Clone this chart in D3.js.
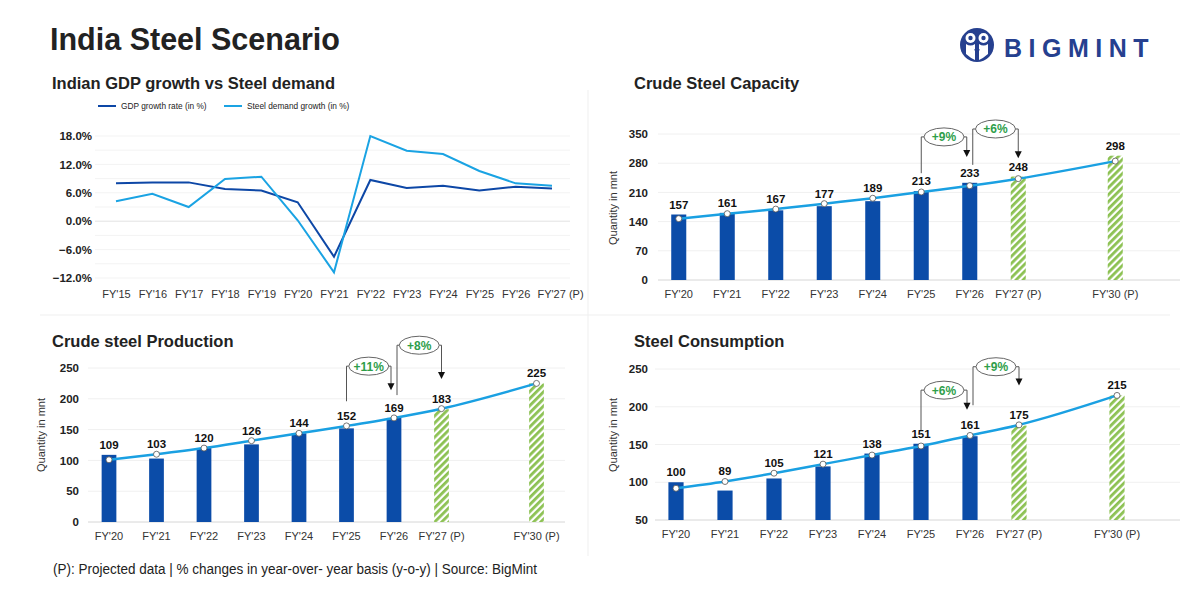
<!DOCTYPE html>
<html>
<head>
<meta charset="utf-8">
<script src="https://cdn.jsdelivr.net/npm/d3@7/dist/d3.min.js"></script>
<style>
  html, body { margin: 0; padding: 0; background: #fff; }
  svg { display: block; font-family: "Liberation Sans", Arial, sans-serif; }
</style>
</head>
<body>
<svg id="chart" width="1200" height="600"></svg>
<script>
// ---------------- DATA ----------------
const gdpYears = ["FY'15","FY'16","FY'17","FY'18","FY'19","FY'20","FY'21","FY'22","FY'23","FY'24","FY'25","FY'26","FY'27 (P)"];
const gdpGrowth = [8.0, 8.2, 8.2, 6.8, 6.5, 4.0, -7.5, 8.7, 7.0, 7.5, 6.5, 7.3, 6.9];
const steelDemandGrowth = [4.2, 5.8, 3.0, 8.9, 9.4, 0.2, -10.8, 18.0, 14.9, 14.2, 10.6, 8.0, 7.5];
const pctTicks = [-12, -6, 0, 6, 12, 18];
const pctGrid = [-12, -9, -6, -3, 0, 3, 6, 9, 12, 15, 18];

const barYears = ["FY'20","FY'21","FY'22","FY'23","FY'24","FY'25","FY'26","FY'27 (P)","FY'30 (P)"];
const projected = [false, false, false, false, false, false, false, true, true];

const capacityValues = [157, 161, 167, 177, 189, 213, 233, 248, 298];
const capacityTrend  = [147, 159, 170, 183, 196, 211, 226, 243, 285];
const capacityTicks  = [0, 70, 140, 210, 280, 350];
const capacityNotes  = [
  { from: "FY'25", to: "FY'26", label: "+9%", start: 256, level: 343, tip: 295 },
  { from: "FY'26", to: "FY'27 (P)", label: "+6%", start: 276, level: 362, tip: 292 }
];

const productionValues = [109, 103, 120, 126, 144, 152, 169, 183, 225];
const productionTrend  = [101, 110, 120, 132, 144, 156, 169, 184, 225];
const productionTicks  = [0, 50, 100, 150, 200, 250];
const productionNotes  = [
  { from: "FY'25", to: "FY'26", label: "+11%", start: 196, level: 253, tip: 214 },
  { from: "FY'26", to: "FY'27 (P)", label: "+8%", start: 206, level: 287, tip: 232 }
];

const consumptionValues = [100, 89, 105, 121, 138, 151, 161, 175, 215];
const consumptionTrend  = [92, 101, 112, 124, 136, 148, 162, 176, 215];
const consumptionTicks  = [50, 100, 150, 200, 250];
const consumptionNotes  = [
  { from: "FY'25", to: "FY'26", label: "+6%", start: 169, level: 222, tip: 196 },
  { from: "FY'26", to: "FY'27 (P)", label: "+9%", start: 202, level: 253, tip: 228 }
];

// ---------------- STYLE ----------------
const C = {
  title: "#222222",
  barBlue: "#0B4CA8",
  gdp: "#0D47A6",
  steel: "#1AA3E3",
  trend: "#1AA0E2",
  green: "#8CC152",
  grid: "#EBEBEB",
  axis: "#D6D6D6",
  text: "#333333",
  noteGreen: "#2E9E4A",
  logo: "#26408F"
};

const svg = d3.select("#chart");
const defs = svg.append("defs");
const pat = defs.append("pattern")
  .attr("id", "hatch").attr("patternUnits", "userSpaceOnUse")
  .attr("width", 5).attr("height", 5)
  .attr("patternTransform", "rotate(45)");
pat.append("rect").attr("width", 5).attr("height", 5).attr("fill", "#fff");
pat.append("rect").attr("width", 2.8).attr("height", 5).attr("fill", C.green);

// ---------------- HEADER ----------------
svg.append("text").attr("x", 50).attr("y", 50)
  .attr("font-size", 30.5).attr("font-weight", 700).attr("fill", C.title)
  .text("India Steel Scenario");

// Logo
const logo = svg.append("g").attr("transform", "translate(977,45)");
logo.append("circle").attr("r", 17).attr("fill", C.logo);
logo.append("circle").attr("cx", -6.5).attr("cy", -7).attr("r", 5).attr("fill", "#fff");
logo.append("circle").attr("cx", 6.5).attr("cy", -7).attr("r", 5).attr("fill", "#fff");
logo.append("circle").attr("cx", -6.5).attr("cy", -7).attr("r", 2.2).attr("fill", C.logo);
logo.append("circle").attr("cx", 6.5).attr("cy", -7).attr("r", 2.2).attr("fill", C.logo);
logo.append("path").attr("d", "M-11,-1 Q-6.5,2 -2,-1 L-2,15 Q-6.5,13 -11,9 Z").attr("fill", "#fff");
logo.append("path").attr("d", "M11,-1 Q6.5,2 2,-1 L2,15 Q6.5,13 11,9 Z").attr("fill", "#fff");
logo.append("path").attr("d", "M-2,4 L0,10 L2,4").attr("fill", "none").attr("stroke", C.logo).attr("stroke-width", 1.5);
svg.append("text").attr("x", 1004).attr("y", 57)
  .attr("font-size", 25).attr("font-weight", 700).attr("fill", C.logo)
  .attr("letter-spacing", 6.5).text("BIGMINT");

// Separators
svg.append("line").attr("x1", 588).attr("x2", 588).attr("y1", 90).attr("y2", 556)
  .attr("stroke", "#EFEFEF");
svg.append("line").attr("x1", 40).attr("x2", 1170).attr("y1", 315).attr("y2", 315)
  .attr("stroke", "#EFEFEF");

// Footer
svg.append("text").attr("x", 53).attr("y", 574)
  .attr("font-size", 14).attr("fill", "#222")
  .attr("textLength", 484).attr("lengthAdjust", "spacingAndGlyphs")
  .text("(P): Projected data | % changes in year-over- year basis (y-o-y) | Source: BigMint");

// ---------------- CHART 1: GDP vs steel demand ----------------
(function () {
  const g = svg.append("g");
  g.append("text").attr("x", 52).attr("y", 89)
    .attr("font-size", 16.5).attr("font-weight", 700).attr("fill", C.title)
    .text("Indian GDP growth vs Steel demand");

  // legend
  const leg = [{ name: "GDP growth rate (in %)", color: C.gdp, x: 98 },
               { name: "Steel demand growth (in %)", color: C.steel, x: 224 }];
  leg.forEach(l => {
    g.append("line").attr("x1", l.x).attr("x2", l.x + 18).attr("y1", 106).attr("y2", 106)
      .attr("stroke", l.color).attr("stroke-width", 2);
    g.append("text").attr("x", l.x + 23).attr("y", 109).attr("font-size", 8.3)
      .attr("fill", "#222").text(l.name);
  });

  const x = d3.scalePoint().domain(gdpYears).range([116, 552]);
  const y = d3.scaleLinear().domain([-12, 18]).range([278, 136]);

  g.selectAll(".grid").data(pctGrid).enter().append("line")
    .attr("x1", 95).attr("x2", 570)
    .attr("y1", d => y(d)).attr("y2", d => y(d))
    .attr("stroke", d => d === 0 ? "#E2E2E2" : "#F3F3F3").attr("stroke-width", 1);

  const ya = g.append("g").attr("transform", "translate(92,0)")
    .call(d3.axisLeft(y).tickValues(pctTicks).tickSize(0).tickPadding(0).tickFormat(d => d3.format(".1f")(d) + "%"));
  ya.select(".domain").remove();
  ya.selectAll("text").attr("font-size", 11.5).attr("font-weight", 700).attr("fill", "#222")
    .attr("font-family", "Liberation Sans, Arial, sans-serif");

  const xa = g.append("g").attr("transform", "translate(0,290)")
    .call(d3.axisBottom(x).tickSize(0).tickPadding(0));
  xa.select(".domain").remove();
  xa.selectAll("text").attr("font-size", 11).attr("fill", C.text).attr("dy", "0.71em")
    .attr("font-family", "Liberation Sans, Arial, sans-serif")
    .attr("dx", (d, i) => i === gdpYears.length - 1 ? 8 : 0);

  const line = d3.line().x((d, i) => x(gdpYears[i])).y(d => y(d));
  g.append("path").datum(gdpGrowth).attr("d", line).attr("fill", "none")
    .attr("stroke", C.gdp).attr("stroke-width", 2);
  g.append("path").datum(steelDemandGrowth).attr("d", line).attr("fill", "none")
    .attr("stroke", C.steel).attr("stroke-width", 2);
})();

// ---------------- BAR + TREND CHART ----------------
function barChart(opts) {
  const g = svg.append("g");
  g.append("text").attr("x", opts.titleX).attr("y", opts.titleY)
    .attr("font-size", 16.5).attr("font-weight", 700).attr("fill", C.title)
    .text(opts.title);

  const slots = barYears.slice(0, 8).concat(["_gap"], barYears.slice(8));
  const x = d3.scaleBand().domain(slots).range(opts.xRange).paddingInner(0.69).paddingOuter(0.345);
  const cx = k => x(k) + x.bandwidth() / 2;
  const y = d3.scaleLinear().domain(opts.yDomain).range(opts.yRange);

  g.selectAll(".grid").data(opts.ticks).enter().append("line")
    .attr("x1", opts.gridX[0]).attr("x2", opts.gridX[1])
    .attr("y1", d => y(d)).attr("y2", d => y(d))
    .attr("stroke", (d, i) => i === 0 ? C.axis : "#F0F0F0").attr("stroke-width", 1);

  const ya = g.append("g").attr("transform", `translate(${opts.tickX},0)`)
    .call(d3.axisLeft(y).tickValues(opts.ticks).tickSize(0).tickPadding(0));
  ya.select(".domain").remove();
  ya.selectAll("text").attr("font-size", 11.5).attr("font-weight", 700).attr("fill", "#222")
    .attr("font-family", "Liberation Sans, Arial, sans-serif");

  g.append("text")
    .attr("transform", `translate(${opts.yTitleX},${opts.yTitleY}) rotate(-90)`)
    .attr("text-anchor", "middle").attr("font-size", 11).attr("fill", C.text)
    .text("Quantity in mnt");

  const xa = g.append("g").attr("transform", `translate(0,${opts.yRange[0] + 10})`)
    .call(d3.axisBottom(x).tickValues(barYears).tickSize(0).tickPadding(0));
  xa.select(".domain").remove();
  xa.selectAll("text").attr("font-size", 11).attr("fill", C.text).attr("dy", "0.71em")
    .attr("font-family", "Liberation Sans, Arial, sans-serif");

  const data = barYears.map((k, i) => ({ k, v: opts.values[i], t: opts.trend[i], p: projected[i] }));

  g.selectAll(".bar").data(data).enter().append("rect")
    .attr("x", d => x(d.k)).attr("width", x.bandwidth())
    .attr("y", d => y(d.v)).attr("height", d => y(opts.yDomain[0]) - y(d.v))
    .attr("fill", d => d.p ? "url(#hatch)" : C.barBlue);

  const tline = d3.line().x(d => cx(d.k)).y(d => y(d.t)).curve(d3.curveMonotoneX);
  g.append("path").datum(data).attr("d", tline).attr("fill", "none")
    .attr("stroke", C.trend).attr("stroke-width", 2.5);

  g.selectAll(".mk").data(data).enter().append("circle")
    .attr("cx", d => cx(d.k)).attr("cy", d => y(d.t)).attr("r", 3)
    .attr("fill", "#fff").attr("stroke", "#555").attr("stroke-width", 0.8);

  g.selectAll(".lbl").data(data).enter().append("text")
    .attr("x", d => cx(d.k)).attr("y", d => Math.min(y(d.v), y(d.t)) - 6)
    .attr("text-anchor", "middle").attr("font-size", 11.5).attr("font-weight", 700)
    .attr("fill", "#111").text(d => d.v);

  // annotations
  opts.notes.forEach((n, i) => {
    const x1 = cx(n.from) + (i === 0 ? 0 : 3);
    const x2 = cx(n.to) - (i === 0 ? 3 : 0);
    const mid = (x1 + x2) / 2;
    const rx = Math.min(20, (x2 - x1) / 2), ry = 9;
    const yl = y(n.level), ys = y(n.start), yt = y(n.tip);
    const a = g.append("g");
    a.append("path")
      .attr("d", `M${x1},${ys} L${x1},${yl} L${mid - rx},${yl} M${mid + rx},${yl} L${x2},${yl} L${x2},${yt - 6}`)
      .attr("fill", "none").attr("stroke", "#555").attr("stroke-width", 1);
    a.append("path").attr("d", `M${x2 - 3.5},${yt - 7} L${x2 + 3.5},${yt - 7} L${x2},${yt} Z`).attr("fill", "#111");
    a.append("ellipse").attr("cx", mid).attr("cy", yl).attr("rx", rx).attr("ry", ry)
      .attr("fill", "#fff").attr("stroke", "#666").attr("stroke-width", 1);
    a.append("text").attr("x", mid).attr("y", yl + 4.5).attr("text-anchor", "middle")
      .attr("font-size", 12).attr("font-weight", 700).attr("fill", C.noteGreen).text(n.label);
  });
}

barChart({
  title: "Crude Steel Capacity", titleX: 634, titleY: 89,
  values: capacityValues, trend: capacityTrend, ticks: capacityTicks, notes: capacityNotes,
  xRange: [654.5, 1139.5], yDomain: [0, 350], yRange: [280, 134],
  gridX: [658, 1180], tickX: 648, yTitleX: 617, yTitleY: 208
});
barChart({
  title: "Crude steel Production", titleX: 52, titleY: 347,
  values: productionValues, trend: productionTrend, ticks: productionTicks, notes: productionNotes,
  xRange: [85.25, 560.25], yDomain: [0, 250], yRange: [522, 368],
  gridX: [88, 565], tickX: 79, yTitleX: 45, yTitleY: 435
});
barChart({
  title: "Steel Consumption", titleX: 634, titleY: 347,
  values: consumptionValues, trend: consumptionTrend, ticks: consumptionTicks, notes: consumptionNotes,
  xRange: [651.5, 1141.5], yDomain: [50, 250], yRange: [520, 369],
  gridX: [655, 1180], tickX: 648, yTitleX: 617, yTitleY: 435
});
</script>
</body>
</html>
